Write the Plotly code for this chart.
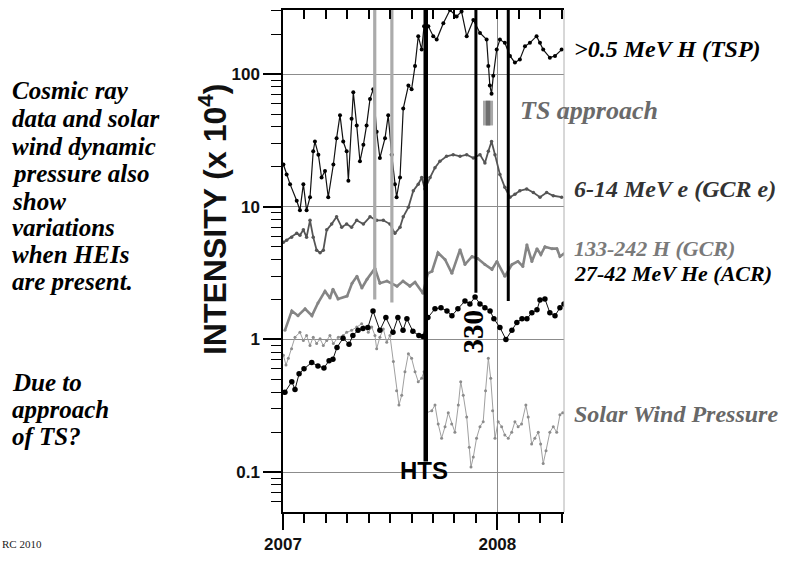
import plotly.graph_objects as go

# ---------------- data (decimal year, intensity x 1e4) ----------------
tsp_year = [2007.002, 2007.017, 2007.033, 2007.064, 2007.079, 2007.095, 2007.110, 2007.126, 2007.141, 2007.149,
            2007.165, 2007.180, 2007.196, 2007.211, 2007.235, 2007.250, 2007.266, 2007.281, 2007.297, 2007.305,
            2007.320, 2007.328, 2007.344, 2007.359, 2007.375, 2007.390, 2007.406, 2007.421, 2007.437, 2007.452,
            2007.476, 2007.491, 2007.507, 2007.522, 2007.530, 2007.546, 2007.561, 2007.585, 2007.600, 2007.616,
            2007.631, 2007.647, 2007.658, 2007.678, 2007.701, 2007.717, 2007.748, 2007.779, 2007.810, 2007.833,
            2007.857, 2007.888, 2007.919, 2007.950, 2007.958, 2007.965, 2007.973, 2007.981, 2007.997, 2008.012,
            2008.035, 2008.059, 2008.082, 2008.105, 2008.129, 2008.152, 2008.183, 2008.199, 2008.214, 2008.245,
            2008.269, 2008.300]
tsp_val = [20.8, 17.5, 14.8, 11.1, 9.4, 14.8, 9.4, 11.8, 26.2, 31,
           24.7, 16.6, 18.6, 11.8, 20.8, 32.9, 49, 31, 26.2, 15.7,
           46, 73, 41, 22, 29.3, 41, 65, 77, 36.8, 23.3,
           32.9, 49, 24.7, 14.8, 11.8, 16.6, 55, 82, 77, 115,
           193, 153, 229, 229, 193, 182, 242, 304, 272, 296,
           193, 256, 204, 182, 115, 82, 71, 97, 153, 182,
           172, 137, 122, 129, 162, 172, 193, 172, 153, 133,
           137, 153]

gcre_year = [2007.002, 2007.017, 2007.040, 2007.064, 2007.079, 2007.095, 2007.110, 2007.126, 2007.141, 2007.157,
             2007.173, 2007.188, 2007.204, 2007.227, 2007.250, 2007.274, 2007.297, 2007.320, 2007.344, 2007.375,
             2007.406, 2007.437, 2007.468, 2007.499, 2007.522, 2007.546, 2007.561, 2007.585, 2007.608, 2007.631,
             2007.647, 2007.662, 2007.686, 2007.709, 2007.732, 2007.763, 2007.794, 2007.826, 2007.857, 2007.888,
             2007.919, 2007.942, 2007.958, 2007.973, 2007.989, 2008.012, 2008.035, 2008.059, 2008.082, 2008.105,
             2008.137, 2008.168, 2008.199, 2008.230, 2008.261, 2008.300]
gcre_val = [5.4, 5.6, 5.9, 6.3, 6.1, 6.7, 5.9, 7.9, 5.9, 4.7,
            4.5, 4.7, 6.7, 7.4, 8.4, 7.0, 7.4, 7.0, 7.9, 7.4,
            8.4, 7.9, 7.9, 7.4, 6.3, 7.0, 8.4, 9.9, 13.2, 14.8,
            16.6, 13.6, 16.6, 19.7, 22.0, 24.0, 24.7, 24.0, 24.7, 23.3,
            24.7, 21.4, 26.2, 31.0, 24.7, 17.5, 14.0, 11.8, 12.4, 13.2,
            13.6, 12.8, 11.8, 12.8, 12.1, 11.8]

gcrh_year = [2007.009, 2007.041, 2007.070, 2007.103, 2007.135, 2007.163, 2007.196, 2007.219, 2007.233, 2007.257,
             2007.299, 2007.322, 2007.345, 2007.368, 2007.392, 2007.429, 2007.452, 2007.485, 2007.532, 2007.560,
             2007.592, 2007.616, 2007.653, 2007.676, 2007.695, 2007.723, 2007.756, 2007.788, 2007.826, 2007.849,
             2007.882, 2007.909, 2007.942, 2007.975, 2007.998, 2008.035, 2008.068, 2008.096, 2008.119, 2008.138,
             2008.161, 2008.185, 2008.203, 2008.222, 2008.255, 2008.278, 2008.292, 2008.311]
gcrh_val = [1.17, 1.64, 1.51, 1.70, 1.51, 1.88, 2.31, 2.05, 2.39, 2.02,
            2.12, 2.65, 2.99, 2.44, 2.84, 3.43, 2.65, 2.75, 2.52, 2.75,
            2.52, 2.70, 2.23, 3.15, 3.26, 4.5, 4.0, 3.15, 4.75, 3.67,
            4.22, 4.07, 3.67, 3.37, 3.87, 2.99, 3.67, 3.87, 3.55, 5.17,
            3.87, 4.83, 4.36, 5.0, 4.83, 4.83, 4.22, 4.43]

acr_year = [2007.009, 2007.041, 2007.056, 2007.075, 2007.098, 2007.134, 2007.163, 2007.191, 2007.215, 2007.233,
            2007.252, 2007.280, 2007.308, 2007.326, 2007.350, 2007.373, 2007.396, 2007.420, 2007.452, 2007.480,
            2007.513, 2007.536, 2007.560, 2007.578, 2007.606, 2007.634, 2007.653, 2007.676, 2007.709, 2007.737,
            2007.765, 2007.788, 2007.816, 2007.849, 2007.872, 2007.896, 2007.919, 2007.942, 2007.966, 2007.984,
            2008.012, 2008.040, 2008.068, 2008.091, 2008.115, 2008.138, 2008.161, 2008.185, 2008.199, 2008.222,
            2008.245, 2008.269, 2008.292, 2008.311]
acr_val = [0.40, 0.48, 0.42, 0.55, 0.60, 0.67, 0.63, 0.61, 0.69, 0.71,
           0.87, 1.02, 0.92, 1.07, 1.17, 1.21, 1.23, 1.64, 1.17, 1.46,
           1.13, 1.46, 1.17, 1.43, 1.15, 1.07, 1.05, 1.46, 1.70, 1.73,
           1.64, 1.51, 1.70, 1.95, 1.85, 2.09, 1.85, 1.73, 1.64, 1.43,
           1.23, 1.0, 1.17, 1.34, 1.43, 1.43, 1.59, 1.67, 1.98, 2.02,
           1.59, 1.51, 1.73, 1.85]

sw_year = [2007.002, 2007.014, 2007.025, 2007.040, 2007.056, 2007.079, 2007.095, 2007.110, 2007.126, 2007.141,
           2007.157, 2007.173, 2007.188, 2007.204, 2007.219, 2007.235, 2007.258, 2007.281, 2007.297, 2007.320,
           2007.344, 2007.367, 2007.382, 2007.398, 2007.414, 2007.429, 2007.437, 2007.452, 2007.468, 2007.484,
           2007.499, 2007.515, 2007.530, 2007.541, 2007.554, 2007.569, 2007.585, 2007.600, 2007.616, 2007.631,
           2007.647, 2007.658, 2007.670, 2007.694, 2007.709, 2007.724, 2007.740, 2007.756, 2007.771, 2007.787,
           2007.802, 2007.818, 2007.829, 2007.841, 2007.857, 2007.869, 2007.877, 2007.888, 2007.903, 2007.919,
           2007.934, 2007.945, 2007.958, 2007.969, 2007.978, 2007.989, 2008.004, 2008.020, 2008.035, 2008.051,
           2008.067, 2008.082, 2008.097, 2008.113, 2008.133, 2008.144, 2008.160, 2008.175, 2008.191, 2008.202,
           2008.214, 2008.227, 2008.245, 2008.261, 2008.277, 2008.292, 2008.305]
sw_val = [0.76, 0.64, 0.72, 0.85, 1.04, 1.13, 0.98, 1.07, 0.90, 1.04,
          0.93, 1.01, 0.90, 0.98, 1.07, 0.93, 1.04, 1.07, 1.13, 1.17,
          1.24, 1.31, 1.24, 1.13, 1.24, 1.07, 0.85, 1.04, 1.20, 0.95,
          1.07, 0.68, 0.41, 0.32, 0.38, 0.57, 0.78, 0.72, 0.57, 0.48,
          0.51, 0.57, 0.28, 0.29, 0.32, 0.23, 0.18, 0.22, 0.28, 0.23,
          0.20, 0.32, 0.48, 0.38, 0.26, 0.154, 0.109, 0.13, 0.18, 0.22,
          0.24, 0.41, 0.72, 0.51, 0.29, 0.18, 0.24, 0.22, 0.19, 0.18,
          0.20, 0.24, 0.22, 0.23, 0.32, 0.26, 0.163, 0.18, 0.20, 0.163,
          0.116, 0.145, 0.20, 0.22, 0.20, 0.27, 0.28]

# event markers (vertical bars): year, lower end, upper end
gray_event_year = [2007.428, 2007.508]
gray_event_low = [2.0, 1.9]
black_event_year = [2007.666, 2007.900, 2008.051]
black_event_low = [0.12, 2.25, 1.95]
black_event_width = [4.5, 3, 3]
event_top = 400

ts_bar_year = [2007.933, 2007.980]
ts_bar_core_year = [2007.946, 2007.967]
ts_bar_val = [41, 63]

x_range = [2007.0, 2008.311]
y_range_log = [-1.301, 2.483]
y_major = [0.1, 1, 10, 100]
y_major_text = ["0.1", "1", "10", "100"]
y_minor = [0.06, 0.07, 0.08, 0.09, 0.2, 0.3, 0.4, 0.5, 0.6, 0.7, 0.8, 0.9,
           2, 3, 4, 5, 6, 7, 8, 9, 20, 30, 40, 50, 60, 70, 80, 90, 200, 300]

left_text = ["Cosmic ray", "data and solar", "wind dynamic", "pressure also", "show",
             "variations", "when HEIs", "are present.", "Due to", "approach", "of TS?"]
left_text_y = [92, 120, 148, 176, 204, 231, 258, 285, 388, 415, 442]

SERIF = "Liberation Serif"
SANS = "Liberation Sans"

# plot box in pixels
L, R, T, B = 283, 564, 10, 519
W, H = 798, 564


def px(xp):
    return (xp - L) / (R - L)


def py(yp):
    return (B - yp) / (B - T)


fig = go.Figure()

fig.add_trace(go.Scatter(x=sw_year, y=sw_val, mode="lines+markers",
                         line=dict(color="#a0a0a0", width=1),
                         marker=dict(color="#8c8c8c", size=3)))
fig.add_trace(go.Scatter(x=gcrh_year, y=gcrh_val, mode="lines+markers",
                         line=dict(color="#858585", width=2.6),
                         marker=dict(color="#858585", size=3)))
fig.add_trace(go.Scatter(x=gcre_year, y=gcre_val, mode="lines+markers",
                         line=dict(color="#555555", width=1.8),
                         marker=dict(color="#555555", size=3.5)))
fig.add_trace(go.Scatter(x=acr_year, y=acr_val, mode="lines+markers",
                         line=dict(color="#111111", width=1),
                         marker=dict(color="#000000", size=5.5)))
fig.add_trace(go.Scatter(x=tsp_year, y=tsp_val, mode="lines+markers",
                         line=dict(color="#111111", width=1.2),
                         marker=dict(color="#000000", size=4)))

# event lines
for xv, lo in zip(gray_event_year, gray_event_low):
    fig.add_trace(go.Scatter(x=[xv, xv], y=[lo, event_top], mode="lines",
                             line=dict(color="#ababab", width=3.2)))
for xv, lo, wd in zip(black_event_year, black_event_low, black_event_width):
    fig.add_trace(go.Scatter(x=[xv, xv], y=[lo, event_top], mode="lines",
                             line=dict(color="#000000", width=wd)))

# TS approach bar
fig.add_trace(go.Scatter(x=[ts_bar_year[0], ts_bar_year[1], ts_bar_year[1], ts_bar_year[0], ts_bar_year[0]],
                         y=[ts_bar_val[0], ts_bar_val[0], ts_bar_val[1], ts_bar_val[1], ts_bar_val[0]],
                         mode="lines", fill="toself", fillcolor="#a8a8a8", line=dict(width=0)))
fig.add_trace(go.Scatter(x=[ts_bar_core_year[0], ts_bar_core_year[1], ts_bar_core_year[1], ts_bar_core_year[0],
                            ts_bar_core_year[0]],
                         y=[ts_bar_val[0], ts_bar_val[0], ts_bar_val[1], ts_bar_val[1], ts_bar_val[0]],
                         mode="lines", fill="toself", fillcolor="#6e6e6e", line=dict(width=0)))

# dummy trace to activate top axis
fig.add_trace(go.Scatter(x=[None], y=[None], xaxis="x2", yaxis="y", mode="markers"))

annotations = []
for txt, yy in zip(left_text, left_text_y):
    annotations.append(dict(text=txt, xref="paper", yref="paper", x=px(10), y=py(yy),
                            xanchor="left", yanchor="middle", showarrow=False,
                            font=dict(family=SERIF, size=25, color="#000000", weight="bold", style="italic")))

right_labels = [
    (">0.5 MeV H (TSP)", 572, 50, "#000000", 24),
    ("TS approach", 518, 112, "#6a6a6a", 26),
    ("6-14 MeV e (GCR e)", 572, 192, "#333333", 24),
    ("133-242 H (GCR)", 572, 252, "#7a7a7a", 22),
    ("27-42 MeV He (ACR)", 572, 277, "#000000", 22),
    ("Solar Wind Pressure", 572, 420, "#686868", 24),
]
for txt, xx, yy, col, sz in right_labels:
    annotations.append(dict(text=txt, xref="paper", yref="paper", x=px(xx), y=py(yy),
                            xanchor="left", yanchor="middle", showarrow=False,
                            font=dict(family=SERIF, size=sz, color=col, weight="bold", style="italic")))

annotations.append(dict(text="INTENSITY (x 10<sup>4</sup>)", xref="paper", yref="paper",
                        x=px(213), y=py(223), xanchor="center", yanchor="middle", textangle=-90,
                        showarrow=False, font=dict(family=SANS, size=32, color="#111111", weight="bold")))
annotations.append(dict(text="HTS", xref="paper", yref="paper", x=px(424), y=py(477),
                        xanchor="center", yanchor="middle", showarrow=False,
                        font=dict(family=SANS, size=24, color="#000000", weight="bold")))
annotations.append(dict(text="330", xref="paper", yref="paper", x=px(473), y=py(336),
                        xanchor="center", yanchor="middle", textangle=-90, showarrow=False,
                        font=dict(family=SERIF, size=29, color="#000000", weight="bold")))
annotations.append(dict(text="RC 2010", xref="paper", yref="paper", x=px(0), y=py(551),
                        xanchor="left", yanchor="middle", showarrow=False,
                        font=dict(family=SERIF, size=11, color="#222222")))

fig.update_layout(
    width=W, height=H,
    margin=dict(l=L, r=W - R, t=T, b=H - B, pad=0),
    paper_bgcolor="white", plot_bgcolor="white",
    showlegend=False,
    annotations=annotations,
    xaxis=dict(range=x_range, tickmode="linear", tick0=2007, dtick=1,
               ticks="outside", ticklen=16, tickwidth=1.5, tickcolor="black",
               showline=True, linecolor="black", linewidth=1.5,
               showgrid=True, gridcolor="#8c8c8c", gridwidth=1, zeroline=False,
               tickfont=dict(family=SANS, size=17, color="#111111", weight="bold"),
               minor=dict(ticks="outside", ticklen=9, tickwidth=1.5, tickcolor="black",
                          tick0=2007, dtick=0.1, showgrid=False)),
    xaxis2=dict(range=x_range, overlaying="x", side="top", anchor="y",
                tickmode="linear", tick0=2007, dtick=0.1, ticks="inside", ticklen=9,
                tickwidth=1.5, tickcolor="black", showticklabels=False,
                showline=True, linecolor="black", linewidth=1.5, showgrid=False, zeroline=False),
    yaxis=dict(type="log", range=y_range_log, tickmode="array", tickvals=y_major, ticktext=y_major_text,
               ticks="outside", ticklen=18, tickwidth=1.5, tickcolor="black",
               showline=True, linecolor="black", linewidth=1.5,
               showgrid=True, gridcolor="#8c8c8c", gridwidth=1, zeroline=False,
               tickfont=dict(family=SANS, size=17, color="#111111", weight="bold"),
               minor=dict(ticks="outside", ticklen=10, tickwidth=1.2, tickcolor="black",
                          tickmode="array", tickvals=y_minor, showgrid=False)),
    shapes=[dict(type="line", xref="paper", yref="paper", x0=1, x1=1, y0=0, y1=1,
                 line=dict(color="#b0b0b0", width=1))],
)

fig.write_html("out.html")
